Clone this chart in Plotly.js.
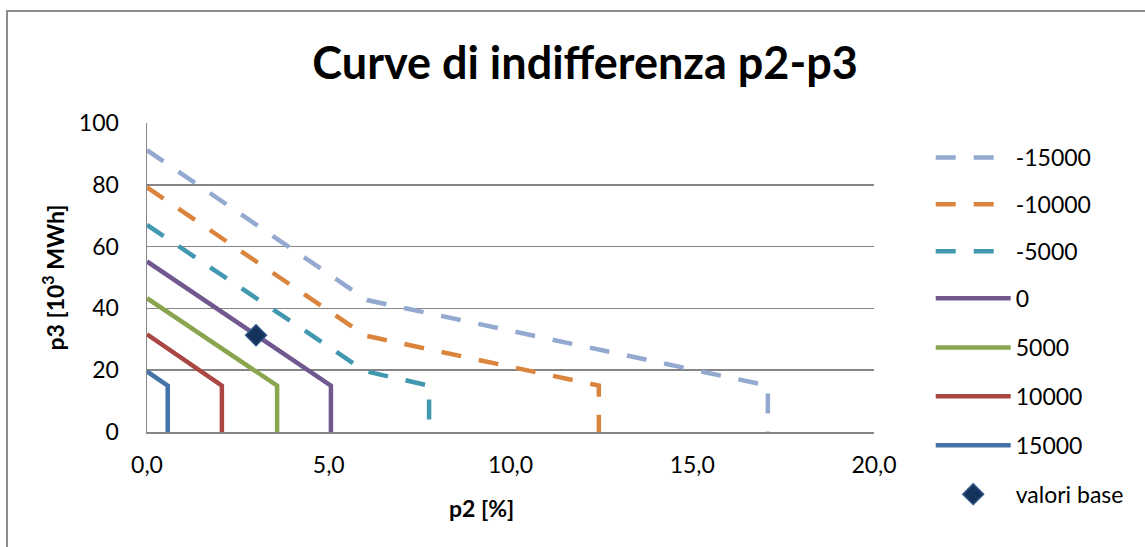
<!DOCTYPE html>
<html>
<head>
<meta charset="utf-8">
<script src="https://cdn.plot.ly/plotly-3.0.1.min.js"></script>
<style>
html,body{margin:0;padding:0;background:#fff;}
#chart{width:1145px;height:547px;}
</style>
</head>
<body>
<div id="chart"></div>
<script>
// ---- data ----
var seriesNames = ["-15000", "-10000", "-5000", "0", "5000", "10000", "15000"];
var x_m15000 = [0, 6.05, 17.08, 17.08];
var y_m15000 = [91.2, 42.7, 15, 0];
var x_m10000 = [0, 6.0, 12.43, 12.43];
var y_m10000 = [79.2, 31.2, 15, 0];
var x_m5000 = [0, 6.0, 7.76, 7.76];
var y_m5000 = [67.0, 19.7, 15, 0];
var x_0 = [0, 5.06, 5.06];
var y_0 = [55.2, 15, 0];
var x_5000 = [0, 3.58, 3.58];
var y_5000 = [43.3, 15, 0];
var x_10000 = [0, 2.06, 2.06];
var y_10000 = [31.6, 15, 0];
var x_15000 = [0, 0.57, 0.57];
var y_15000 = [19.6, 15, 0];
var baseName = "valori base";
var x_base = [3.0];
var y_base = [31.3];
var xTicks = [0, 5, 10, 15, 20];
var yTicks = [0, 20, 40, 60, 80, 100];
var titleText = "Curve di indifferenza p2-p3";
var xTitle = "p2 [%]";
var yTitle = "p3 [10<sup>3</sup> MWh]";

var xs = [x_m15000, x_m10000, x_m5000, x_0, x_5000, x_10000, x_15000];
var ys = [y_m15000, y_m10000, y_m5000, y_0, y_5000, y_10000, y_15000];
var colors = ["#93A9CF", "#DB843D", "#4198AF", "#71588F", "#89A54E", "#AA4643", "#4572A7"];
var dashes = ["20px,18px", "20px,18px", "20px,18px", "solid", "solid", "solid", "solid"];
var legendOf = ["legend", "legend", "legend", "legend", "legend2", "legend2", "legend2"];

var FONT = "Lato, Calibri, 'Open Sans', sans-serif";
var traces = [];
for (var i = 0; i < seriesNames.length; i++) {
  traces.push({
    type: "scatter", mode: "lines", name: seriesNames[i],
    x: xs[i], y: ys[i], legendgroup: "g" + i, legend: legendOf[i],
    line: {color: colors[i], width: 4.5, dash: dashes[i]},
    hoverinfo: "x+y+name"
  });
}
traces.push({
  type: "scatter", mode: "markers", name: baseName,
  x: x_base, y: y_base, legendgroup: "gb", legend: "legend2",
  marker: {symbol: "diamond", size: 16, color: "#14325C", line: {color: "#2E5483", width: 1.5}}
});

var legendCommon = {
  xanchor: "left", yanchor: "top",
  font: {size: 23}, itemwidth: 75, traceorder: "grouped",
  bgcolor: "rgba(0,0,0,0)"
};
var legend1 = Object.assign({x: 1.078, y: 0.958, tracegroupgap: 14}, legendCommon);
var legend2 = Object.assign({x: 1.078, y: 0.343, tracegroupgap: 16}, legendCommon);

var layout = {
  width: 1145, height: 547,
  margin: {l: 147, r: 271, t: 123, b: 115},
  paper_bgcolor: "#fff", plot_bgcolor: "#fff",
  separators: ",.",
  font: {family: FONT, size: 23, color: "#000"},
  title: {text: "<b>" + titleText + "</b>", font: {family: FONT, size: 45, color: "#000"},
          x: 0.511, xanchor: "center", y: 0.885, yanchor: "middle"},
  xaxis: {
    range: [0, 20], tickvals: xTicks, tickformat: ".1f",
    showgrid: false, zeroline: false, showline: true, linecolor: "#868686", linewidth: 1.5,
    ticks: "", ticklabelstandoff: 12, tickfont: {size: 23},
    fixedrange: true
  },
  yaxis: {
    range: [0, 100], tickvals: yTicks,
    showgrid: true, gridcolor: "#868686", gridwidth: 1.5,
    zeroline: false, showline: true, linecolor: "#868686", linewidth: 1.5,
    ticks: "", ticklabelstandoff: 22, tickfont: {size: 23},
    title: {text: "<b>" + yTitle + "</b>", font: {size: 23}, standoff: 8},
    fixedrange: true
  },
  annotations: [{
    text: "<b>" + xTitle + "</b>", xref: "paper", yref: "paper",
    x: (481 - 147) / 727, y: (432 - 508) / 309, xanchor: "center", yanchor: "middle",
    showarrow: false, font: {size: 23}
  }],
  legend: legend1,
  legend2: legend2,
  shapes: [{
    type: "rect", xref: "paper", yref: "paper",
    x0: -0.1926, x1: 1.5, y0: -0.5, y1: 1.3625,
    line: {color: "#8C8C8C", width: 2}, fillcolor: "rgba(0,0,0,0)", layer: "below"
  }],
  showlegend: true
};

Plotly.newPlot("chart", traces, layout, {displayModeBar: false, staticPlot: true});
</script>
</body>
</html>
